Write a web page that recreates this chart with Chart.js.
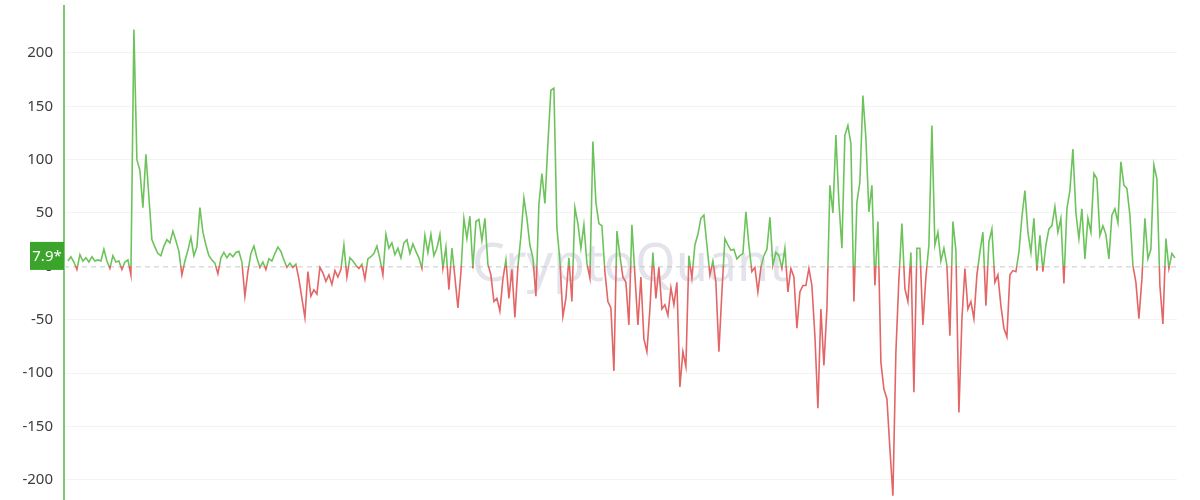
<!DOCTYPE html>
<html>
<head>
<meta charset="utf-8">
<script src="https://cdn.jsdelivr.net/npm/chart.js@4.4.1/dist/chart.umd.min.js"></script>
<style>
    html, body { margin: 0; padding: 0; background: #ffffff; }
    #wrap { width: 1200px; height: 500px; position: relative; }
</style>
</head>
<body>
<div id="wrap"><canvas id="flow"></canvas></div>
<script>
// daily values left to right
const flowValues = [
    5, 9, 4, -3, 11, 5, 8, 4, 9, 5, 6, 5, 16, 5, -2, 10, 4, 5, -3, 4, 6, -8,
    222, 100, 90, 55, 105, 65, 25, 18, 12, 10, 19, 25, 22, 33, 24, 14, -8, 5, 15, 27, 10, 18, 55,
    32, 20, 10, 6, 3, -7, 8, 13, 8, 12, 9, 13, 14, 4, -28, -5, 12, 19, 8, -1, 4, -3, 7, 5, 12, 18, 14, 6, -1, 3, -1, 2, -12,
    -30, -48, -5, -28, -22, -26, -1, -6, -14, -8, -17, -4, -10, -3, 20, -10, 8, 5, 1, -2, 2, -12, 7, 9, 12, 19, 7, -8, 30, 17, 22, 11, 17,
    8, 22, 25, 12, 21, 14, 8, -2, 29, 13, 30, 10, 17, 30, -2, 18, -22, 17, -10, -39, -6, 45, 26, 47, -2, 42, 44, 24, 45, 2, -8, -33, -30,
    -42, -12, 6, -30, -3, -48, 0, 28, 64, 45, 20, 8, -28, 58, 87, 59, 115, 165, 167, 36, 5, -47, -30, 8, -33, 55, 40, 17, 39, 3, -11, 117, 60,
    40, 38, -5, -33, -39, -98, 33, 10, -10, -15, -55, 39, -8, -55, -10, -68, -80, -40, 13, -30, -1, -40, -36, -46, -20, -36, -15, -113, -80, -94, 10, -11, 20,
    30, 45, 48, 20, -8, 5, -15, -80, -24, 26, 20, 15, 16, 7, 10, 12, 51, 20, -5, -1, -24, -1, 10, 16, 46, 1, 13, 10, -2, 17, -24, -2, -10,
    -58, -24, -18, -18, -2, -18, -65, -133, -40, -93, -40, 76, 50, 123, 60, 17, 123, 132, 115, -33, 60, 79, 160, 120, 51, 76, -18, 42, -90, -115, -124, -171, -215,
    -80, -12, 40, -21, -33, 13, -118, 17, 17, -55, -10, 20, 132, 20, 32, 5, 17, 1, -65, 42, 15, -137, -50, -2, -40, -33, -49, -8, 13, 32, -37, 23, 35,
    -15, -8, -37, -58, -66, -8, -4, -5, 13, 46, 71, 32, 13, 45, -4, 29, -5, 20, 35, 38, 56, 32, 45, -16, 54, 71, 110, 50, 26, 54, 7, 45, 32,
    87, 82, 29, 38, 30, 7, 48, 54, 41, 98, 76, 73, 48, 1, -15, -49, -12, 45, 7, 16, 95, 82, -18, -54, 26, -2, 12, 7.9
];
const dayIndex = flowValues.map((v, i) => i);
const yTicks = [-200, -150, -100, -50, 0, 50, 100, 150, 200];
const lastLabel = '7.9*';

const GREEN = '#6dc35b';
const RED = '#e36565';

function splitColor(context) {
    const chart = context.chart;
    const area = chart.chartArea;
    if (!area) return GREEN;
    const zero = chart.scales.y.getPixelForValue(0);
    let f = (zero - area.top) / (area.bottom - area.top);
    f = Math.min(1, Math.max(0, f));
    const g = chart.ctx.createLinearGradient(0, area.top, 0, area.bottom);
    g.addColorStop(0, GREEN);
    g.addColorStop(f, GREEN);
    g.addColorStop(f, RED);
    g.addColorStop(1, RED);
    return g;
}

const extras = {
    id: 'extras',
    beforeDatasetsDraw(chart) {
        const c = chart.ctx;
        const area = chart.chartArea;
        // watermark
        c.save();
        c.font = '52px "Noto Sans"';
        c.fillStyle = 'rgba(192, 192, 210, 0.45)';
        c.textAlign = 'center';
        c.textBaseline = 'alphabetic';
        c.fillText('CryptoQuant', 630, 281);
        // zero line
        const z = chart.scales.y.getPixelForValue(0);
        c.strokeStyle = '#c9c9c9';
        c.lineWidth = 1;
        c.setLineDash([5, 4]);
        c.beginPath();
        c.moveTo(area.left, z + 0.5);
        c.lineTo(area.right, z + 0.5);
        c.stroke();
        c.restore();
    },
    afterDraw(chart) {
        const c = chart.ctx;
        const area = chart.chartArea;
        const y = chart.scales.y.getPixelForValue(flowValues[flowValues.length - 1]) - 2;
        c.save();
        c.fillStyle = '#3aa52a';
        c.fillRect(30, y - 14, area.left - 30, 28);
        c.fillStyle = '#ffffff';
        c.font = '15px "Noto Sans"';
        c.textAlign = 'center';
        c.textBaseline = 'middle';
        c.fillText(lastLabel, (30 + area.left) / 2, y + 1);
        c.restore();
    }
};

const ctx = document.getElementById('flow').getContext('2d');
const chart = new Chart(ctx, {
    type: 'line',
    data: {
        datasets: [{
            data: flowValues.map((v, i) => ({ x: dayIndex[i], y: v })),
            borderColor: splitColor,
            borderWidth: 1.6,
            pointRadius: 0,
            tension: 0,
            fill: false
        }]
    },
    options: {
        responsive: true,
        maintainAspectRatio: false,
        animation: false,
        layout: {
            padding: { top: 6, right: 23, bottom: 0, left: 0 }
        },
        scales: {
            x: {
                type: 'linear',
                display: false,
                min: -1.3,
                max: flowValues.length - 1 + 0.7
            },
            y: {
                min: -219,
                max: 244,
                afterFit: scale => {
                    scale.width = 64;
                    scale.paddingTop = 0;
                    scale.paddingBottom = 0;
                },
                afterBuildTicks: scale => {
                    scale.ticks = yTicks.map(v => ({ value: v }));
                },
                grid: {
                    color: c => c.tick && c.tick.value === 0 ? 'rgba(0,0,0,0)' : '#f3f3f3',
                    drawTicks: false
                },
                border: {
                    color: '#7cc86f',
                    width: 2
                },
                ticks: {
                    color: '#3d3d3d',
                    padding: 11,
                    font: { family: 'Noto Sans', size: 15 }
                }
            }
        },
        plugins: {
            legend: { display: false },
            tooltip: { enabled: false }
        }
    },
    plugins: [extras]
});
</script>
</body>
</html>
